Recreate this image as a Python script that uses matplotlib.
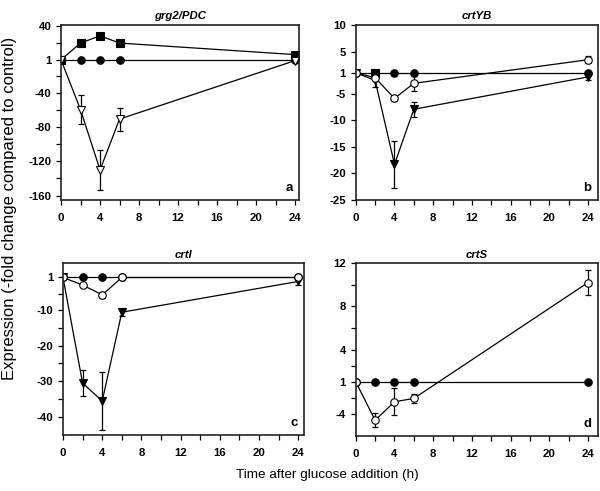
import numpy as np
import matplotlib
matplotlib.use('Agg')
import matplotlib.pyplot as plt
from matplotlib.ticker import FixedLocator, FixedFormatter

plt.rcParams['font.family'] = ['Liberation Sans', 'DejaVu Sans']

# time points (h)
t = [0, 2, 4, 6, 24]

# a: grg2/PDC
a_sq = [1, 20.5, 29, 20.5, 7]
a_fc = [1, 1, 1, 1, 1]
a_tri = [1, -59.5, -130, -70.5, -2]
a_tri_err = [0, 17, 23.5, 13.5, 0]

# b: crtYB
b_fc = [1, 1, 1, 1, 1]
b_sq_t = [2]
b_sq = [1]
b_oc = [1, -1.95, -5.85, -3, 3.45]
b_oc_err = [0, 0.4, 0.5, 1.45, 0.7]
b_tri = [1, -2.45, -18.3, -7.9, -1.8]
b_tri_err = [0, 1.3, 4.5, 1.4, 0.6]

# c: crtI
c_fc = [1, 1, 1, 1, 1]
c_oc = [1, -3.1, -5.85, 1, 1]
c_oc_err = [0, 0, 0.8, 0, 0]
c_tri = [1, -30.5, -35.5, -10.7, -2.1]
c_tri_err = [0, 3.6, 8, 1, 1.0]

# d: crtS
d_fc = [1, 1, 1, 1, 1]
d_oc = [1, -4.54, -2.83, -2.52, 10.2]
d_oc_err = [0, 0.63, 1.27, 0.4, 1.13]


# fold change axis: -1 and 1 sit at the same place
def fwd(v):
    v = np.asarray(v, dtype=float)
    return np.where(v >= 1, v, v + 2)


def inv(p):
    p = np.asarray(p, dtype=float)
    return np.where(p >= 1, p, p - 2)


fig = plt.figure(figsize=(6, 4.91), dpi=100)
axa = fig.add_axes([0.1017, 0.593, 0.3966, 0.356])
axb = fig.add_axes([0.593, 0.593, 0.403, 0.356])
axc = fig.add_axes([0.105, 0.114, 0.402, 0.35])
axd = fig.add_axes([0.593, 0.112, 0.403, 0.352])

mk = dict(color='black', lw=0.9, ms=5.4, mec='black', mew=0.8)
eb = dict(fmt='none', ecolor='black', elinewidth=0.9, capsize=2.5, capthick=0.9)


def setup(ax, title, letter, majors, labels, ylim, xmax, minor=True):
    ax.set_yscale('function', functions=(fwd, inv))
    ax.set_ylim(*ylim)
    ax.set_xlim(0, xmax)
    ax.yaxis.set_major_locator(FixedLocator(majors))
    ax.yaxis.set_major_formatter(FixedFormatter(labels))
    if minor:
        p = fwd(majors)
        mids = (p[:-1] + p[1:]) / 2
        ax.yaxis.set_minor_locator(FixedLocator(inv(mids)))
    else:
        ax.yaxis.set_minor_locator(FixedLocator([]))
    ax.xaxis.set_major_locator(FixedLocator([0, 4, 8, 12, 16, 20, 24]))
    ax.xaxis.set_minor_locator(FixedLocator([2, 6, 10, 14, 18, 22]))
    ax.tick_params(which='both', direction='out', length=3.5, width=0.9,
                   labelsize=8.2, top=False, right=False)
    ax.tick_params(axis='x', pad=6)
    for lab in ax.get_xticklabels() + ax.get_yticklabels():
        lab.set_fontweight('bold')
    for s in ax.spines.values():
        s.set_linewidth(1.2)
        s.set_color('#222222')
    ax.set_title(title, fontsize=8.2, fontweight='bold', style='italic', pad=4)
    ax.text(0.975, 0.035, letter, transform=ax.transAxes, ha='right',
            va='bottom', fontsize=9.5, fontweight='bold')


# panel a
axa.plot(t, a_fc, marker='o', mfc='black', **mk)
axa.plot(t, a_sq, marker='s', mfc='black', **mk)
axa.errorbar(t, a_tri, yerr=a_tri_err, **eb)
axa.plot(t, a_tri, marker='v', mfc='white', **dict(mk, ms=6.2))
setup(axa, 'grg2/PDC', 'a', [-160, -120, -80, -40, 1, 40],
      ['-160', '-120', '-80', '-40', '1', '40'], (-165, 41.6), 24.4)

# panel b
axb.plot(t, b_fc, marker='o', mfc='black', **mk)
axb.plot(b_sq_t, b_sq, marker='s', ls='none', mfc='black', **mk)
axb.errorbar(t, b_tri, yerr=b_tri_err, **eb)
axb.plot(t, b_tri, marker='v', mfc='black', **dict(mk, ms=6.2))
axb.errorbar(t, b_oc, yerr=b_oc_err, **eb)
axb.plot(t, b_oc, marker='o', mfc='white', **mk)
setup(axb, 'crtYB', 'b', [-25, -20, -15, -10, -5, 1, 5, 10],
      ['-25', '-20', '-15', '-10', '-5', '1', '5', '10'], (-25, 10), 25,
      minor=False)

# panel c
axc.plot(t, c_fc, marker='o', mfc='black', **mk)
axc.errorbar(t, c_tri, yerr=c_tri_err, **eb)
axc.plot(t, c_tri, marker='v', mfc='black', **dict(mk, ms=6.2))
axc.errorbar(t, c_oc, yerr=c_oc_err, **eb)
axc.plot(t, c_oc, marker='o', mfc='white', **mk)
setup(axc, 'crtI', 'c', [-40, -30, -20, -10, 1],
      ['-40', '-30', '-20', '-10', '1'], (-45, 5), 24.6)

# panel d
axd.plot(t, d_fc, marker='o', mfc='black', **mk)
axd.errorbar(t, d_oc, yerr=d_oc_err, **eb)
axd.plot(t, d_oc, marker='o', mfc='white', **mk)
setup(axd, 'crtS', 'd', [-4, 1, 4, 8, 12],
      ['-4', '1', '4', '8', '12'], (-6, 12), 25)

fig.text(0.016, 0.576, 'Expression (-fold change compared to control)',
         rotation=90, ha='center', va='center', fontsize=12)
fig.text(0.546, 0.033, 'Time after glucose addition (h)',
         ha='center', va='center', fontsize=9.7)

fig.savefig('out.png', dpi=100)
